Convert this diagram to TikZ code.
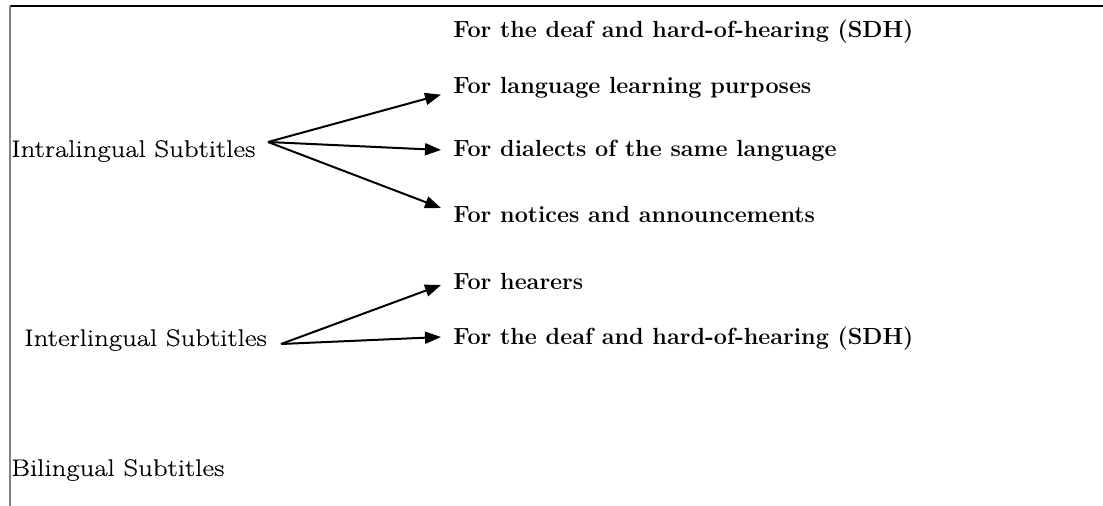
\documentclass[tikz,border=0pt]{standalone}
\usepackage{fontspec}
\setmainfont{Latin Modern Roman}
\newfontfamily\lblfont[FakeStretch=1.2,FakeBold=0.4]{Latin Modern Roman}
\usetikzlibrary{arrows.meta}
\begin{document}
\begin{tikzpicture}[x=0.75pt,y=-0.75pt,
  lbl/.style={anchor=west,inner sep=0pt,font=\lblfont\fontsize{18}{20}\selectfont},
  item/.style={anchor=west,inner sep=0pt,font=\fontsize{17.5}{20}\selectfont\bfseries},
  arr/.style={line width=1.5pt,-{Triangle[length=12pt,width=9pt]}}]
\useasboundingbox (0,0) rectangle (1103,506);
\draw[line width=0.8pt] (10,6) -- (1103,6);
\draw[line width=1.5pt,gray] (10,6) -- (10,506);
\node[item] (a1) at (453,32) {For the deaf and hard-of-hearing (SDH)};
\node[item] (a2) at (453,88) {For language learning purposes};
\node[item] (a3) at (453,151) {For dialects of the same language};
\node[item] (a4) at (453,214) {For notices and announcements};
\node[item] (b1) at (453,281) {For hearers};
\node[item] (b2) at (453,339) {For the deaf and hard-of-hearing (SDH)};
\node[lbl] (intra) at (11,151) {Intralingual Subtitles};
\node[lbl] (inter) at (24,340) {Interlingual Subtitles};
\node[lbl] (bi) at (11,470) {Bilingual Subtitles};
\coordinate (s1) at (268,142);
\coordinate (s2) at (281,344);
\draw[arr] (s1) -- ([xshift=-9pt,yshift=-5pt]a2.west);
\draw[arr] (s1) -- ([xshift=-9pt,yshift=0.75pt]a3.west);
\draw[arr] (s1) -- ([xshift=-9pt,yshift=4.5pt]a4.west);
\draw[arr] (s2) -- ([xshift=-9pt,yshift=-3pt]b1.west);
\draw[arr] (s2) -- ([xshift=-9pt,yshift=1.5pt]b2.west);
\end{tikzpicture}
\end{document}
